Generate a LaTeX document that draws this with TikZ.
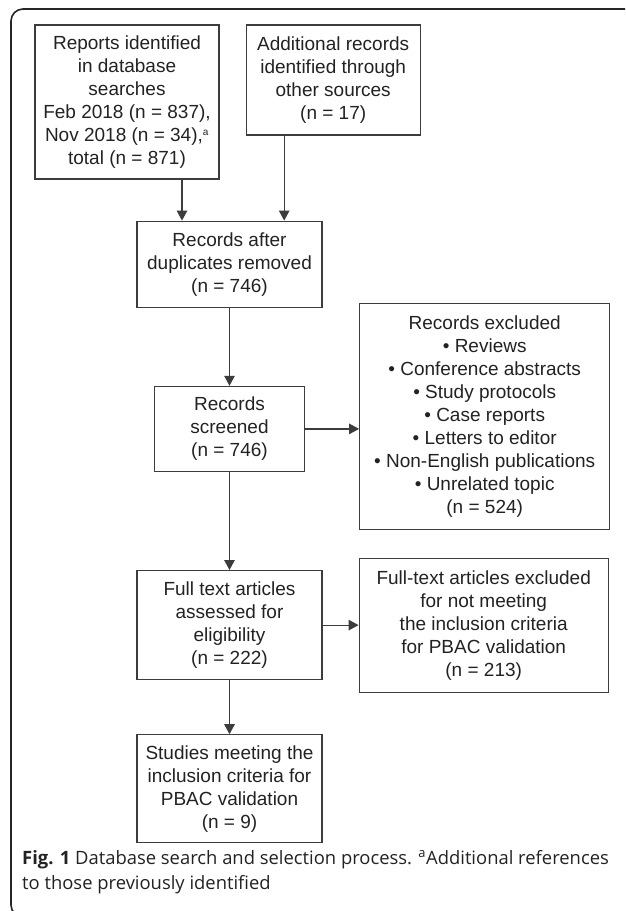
\documentclass[tikz,border=0pt]{standalone}
\usepackage{fontspec}
\setmainfont{Liberation Sans}
\newfontfamily\capfont{Open Sans}
\usepackage{xcolor}
\usepackage{tikz}
\usetikzlibrary{arrows.meta,positioning}

\definecolor{linegray}{HTML}{3C3C3C}
\definecolor{textgray}{HTML}{222222}

\begin{document}
\begin{tikzpicture}[
  box/.style={draw=linegray, line width=1.2pt, align=center, inner sep=2pt, text=textgray,
              font=\fontsize{19}{23}\selectfont},
  arr/.style={-{Triangle[length=10pt,width=10.5pt]}, draw=linegray, line width=1.2pt},
  frame/.style={draw=black!85, line width=1.6pt, rounded corners=12pt}
]
  \useasboundingbox (0,0) rectangle (625pt,-911pt);

  % outer panel, cut at the page edge
  \begin{scope}
    \clip (0,0) rectangle (625pt,-911pt);
    \draw[frame] (680pt,-9pt) -- (11pt,-9pt) -- (11pt,-917pt) -- (680pt,-917pt);
  \end{scope}

  \node[box, minimum width=184pt, minimum height=154pt] (rep) at (127pt,-102pt)
    {Reports identified\\in database\\searches\\Feb 2018 (n = 837),\\Nov 2018 (n = 34),\textsuperscript{\fontsize{10}{10}\selectfont a}\\total (n = 871)};
  \node[box, minimum width=174pt, minimum height=110pt, right=26pt of rep, yshift=22pt] (add)
    {Additional records\\identified through\\other sources\\(n = 17)};

  \node[box, minimum width=185pt, minimum height=86pt, below=41pt of rep, xshift=102.5pt] (dup)
    {Records after\\duplicates removed\\(n = 746)};
  \node[box, minimum width=150pt, minimum height=85pt, below=78pt of dup] (scr)
    {Records\\screened\\(n = 746)};
  \node[box, minimum width=250pt, minimum height=226pt, right=54pt of scr, yshift=12.5pt] (exc)
    {Records excluded\\• Reviews\\• Conference abstracts\\• Study protocols\\• Case reports\\• Letters to editor\\• Non-English publications\\• Unrelated topic\\(n = 524)};

  \node[box, minimum width=185pt, minimum height=109pt, below=98pt of scr] (ful)
    {Full text articles\\assessed for\\eligibility\\(n = 222)};
  \node[box, minimum width=249pt, minimum height=134pt, right=36pt of ful] (fex)
    {Full-text articles excluded\\for not meeting\\the inclusion criteria\\for PBAC validation\\(n = 213)};

  \node[box, minimum width=185pt, minimum height=108pt, below=54pt of ful] (stu)
    {Studies meeting the\\inclusion criteria for\\PBAC validation\\(n = 9)};

  \node[anchor=base west, align=left, text=textgray, inner sep=0pt,
        font=\capfont\fontsize{18.4}{25}\selectfont] (cap) at (22pt,-889pt)
    {\textbf{Fig. 1} Database search and selection process. \textsuperscript{a}Additional references\\to those previously identified};

  \draw[arr] ([xshift=55pt]rep.south) -- ([xshift=55pt]rep.south |- dup.north);
  \draw[arr] ([xshift=-49pt]add.south) -- ([xshift=-49pt]add.south |- dup.north);
  \draw[arr] (dup) -- (scr);
  \draw[arr] (scr.east) -- (scr.east -| exc.west);
  \draw[arr] (scr) -- (ful);
  \draw[arr] (ful) -- (fex);
  \draw[arr] (ful) -- (stu);
\end{tikzpicture}
\end{document}
